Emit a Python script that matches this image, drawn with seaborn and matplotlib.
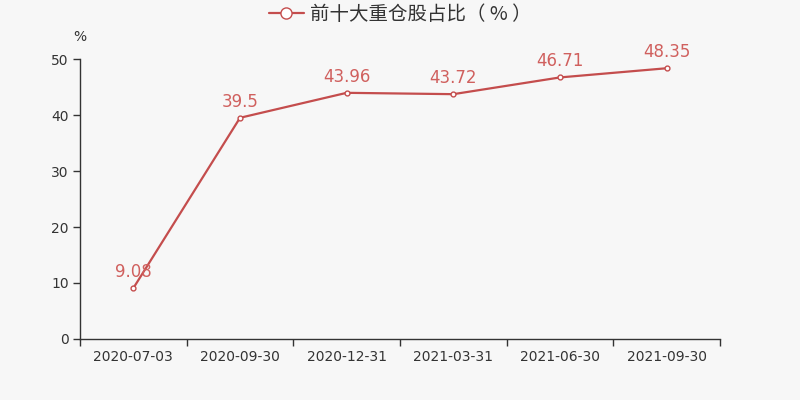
import matplotlib
matplotlib.use("Agg")
import matplotlib.pyplot as plt
import seaborn as sns
import pandas as pd
import numpy as np
from matplotlib.lines import Line2D

dates = ["2020-07-03", "2020-09-30", "2020-12-31", "2021-03-31", "2021-06-30", "2021-09-30"]
values = [9.08, 39.5, 43.96, 43.72, 46.71, 48.35]
labels = ["9.08", "39.5", "43.96", "43.72", "46.71", "48.35"]
yticks = [0, 10, 20, 30, 40, 50]
series_name = "前十大重仓股占比（ % ）"

sns.set_theme(style="white")
plt.rcParams['font.family'] = ['Noto Sans CJK SC', 'DejaVu Sans']

bg = "#f7f7f7"
line_c = "#c44d4d"
text_c = "#333333"

fig = plt.figure(figsize=(8, 4), dpi=100, facecolor=bg)
ax = fig.add_axes([0.1, 0.1525, 0.8, 0.7])
ax.set_facecolor(bg)

df = pd.DataFrame({"x": np.arange(len(dates)), "y": values})
sns.lineplot(data=df, x="x", y="y", ax=ax, color=line_c, linewidth=1.6,
             marker="o", markersize=3.5, markerfacecolor="white",
             markeredgecolor=line_c, markeredgewidth=1)

for i, (v, t) in enumerate(zip(values, labels)):
    ax.annotate(t, (i, v), xytext=(0, 5), textcoords="offset points",
                ha="center", va="bottom", color="#d0605e", fontsize=12,
                family=['DejaVu Sans'])

ax.set_xlim(-0.5, len(dates) - 0.5)
ax.set_ylim(0, 50)
ax.set_yticks(yticks)
ax.set_yticklabels([str(t) for t in yticks], color=text_c, fontsize=10, family=['DejaVu Sans'])
ax.set_xticks(np.arange(len(dates)))
ax.set_xticklabels(dates, color=text_c, fontsize=10, family=['DejaVu Sans'])
ax.set_xticks(np.arange(len(dates) + 1) - 0.5, minor=True)
ax.tick_params(axis="x", which="major", bottom=True, length=0, pad=8)
ax.tick_params(axis="x", which="minor", bottom=True, length=5, color=text_c, width=1, direction="out")
ax.tick_params(axis="y", which="major", left=True, length=5, color=text_c, width=1, direction="out", pad=3)
ax.set_xlabel("")
ax.set_ylabel("")
for s in ["top", "right"]:
    ax.spines[s].set_visible(False)
for s in ["left", "bottom"]:
    ax.spines[s].set_color(text_c)
    ax.spines[s].set_linewidth(1)
ax.grid(False)

fig.text(0.1, 0.907, "%", ha="center", va="center", fontsize=10, color=text_c,
         family=['DejaVu Sans'])

handle = Line2D([0], [0], color=line_c, linewidth=1.6, marker="o", markersize=8,
                markerfacecolor="white", markeredgecolor=line_c, markeredgewidth=1)
leg = fig.legend([handle], [series_name], loc="center", bbox_to_anchor=(0.5, 0.965),
                 frameon=False, fontsize=14, handlelength=1.8, handletextpad=0.3)
for t in leg.get_texts():
    t.set_color(text_c)

fig.savefig("out.png", dpi=100, facecolor=bg)
